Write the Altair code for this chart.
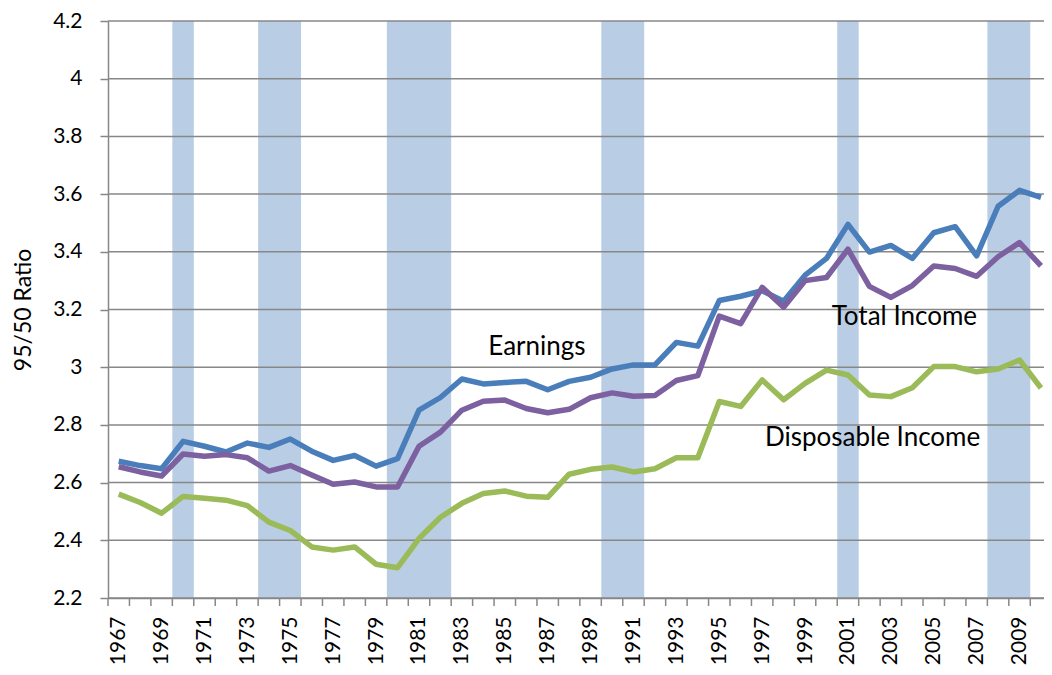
import altair as alt
import pandas as pd

# ---------------- data ----------------
years = list(range(1967, 2011))

earnings = [2.674, 2.659, 2.648, 2.743, 2.726, 2.706, 2.737, 2.722, 2.751, 2.709,
            2.677, 2.694, 2.657, 2.683, 2.851, 2.895, 2.959, 2.942, 2.947, 2.951,
            2.922, 2.951, 2.965, 2.994, 3.008, 3.008, 3.086, 3.073, 3.231, 3.246,
            3.265, 3.229, 3.319, 3.377, 3.495, 3.399, 3.422, 3.377, 3.466, 3.487,
            3.386, 3.558, 3.613, 3.589]

total_income = [2.655, 2.637, 2.623, 2.699, 2.691, 2.697, 2.686, 2.640, 2.659, 2.626,
                2.594, 2.602, 2.585, 2.585, 2.726, 2.775, 2.851, 2.882, 2.886, 2.857,
                2.842, 2.854, 2.894, 2.911, 2.899, 2.902, 2.954, 2.971, 3.177, 3.151,
                3.277, 3.208, 3.300, 3.311, 3.409, 3.280, 3.242, 3.283, 3.351, 3.342,
                3.315, 3.383, 3.432, 3.351]

disposable_income = [2.560, 2.531, 2.494, 2.552, 2.546, 2.539, 2.520, 2.463, 2.434, 2.377,
                     2.366, 2.377, 2.317, 2.305, 2.406, 2.480, 2.528, 2.562, 2.571, 2.553,
                     2.549, 2.629, 2.646, 2.654, 2.637, 2.648, 2.686, 2.686, 2.881, 2.864,
                     2.956, 2.887, 2.944, 2.990, 2.973, 2.904, 2.898, 2.929, 3.002, 3.002,
                     2.984, 2.994, 3.025, 2.928]

series_names = ["Earnings", "Total Income", "Disposable Income"]
series_colors = ["#4A7EBB", "#7D60A0", "#9BBB59"]

recession_start = [1970, 1974, 1980, 1990, 2001, 2008]
recession_end = [1970, 1975, 1982, 1991, 2001, 2009]

y_tick_values = [2.2, 2.4, 2.6, 2.8, 3.0, 3.2, 3.4, 3.6, 3.8, 4.0, 4.2]
x_label_years = list(range(1967, 2010, 2))

label_text = ["Earnings", "Total Income", "Disposable Income"]
label_year = [1984.23, 2000.24, 1997.13]
label_value = [3.042, 3.147, 2.727]

# ---------------- tables ----------------
lines_df = pd.DataFrame({
    "year": years * 3,
    "value": earnings + total_income + disposable_income,
    "series": [series_names[0]] * len(years) + [series_names[1]] * len(years)
              + [series_names[2]] * len(years),
})
bands_df = pd.DataFrame({"start": recession_start, "end": recession_end})
grid_df = pd.DataFrame({"v": y_tick_values})
ticks_df = pd.DataFrame({"year": years})
labels_df = pd.DataFrame({"text": label_text, "year": label_year, "value": label_value})

GRAY = "#878787"
W, H = 936, 577
x_scale = alt.Scale(domain=[1966.5, 2010.14], nice=False, zero=False)
y_scale = alt.Scale(domain=[2.2, 4.2], nice=False, zero=False)

x_axis = alt.Axis(values=x_label_years, format="d", labelAngle=270,
                  ticks=False, tickSize=0, grid=False, title=None,
                  domainColor=GRAY, domainWidth=1.5,
                  labelFontSize=21, labelColor="black", labelPadding=18,
                  labelFlush=False, labelOverlap=False)
y_axis = alt.Axis(values=y_tick_values, format="~f", grid=False,
                  ticks=True, tickSize=8, tickColor=GRAY, tickWidth=1.5,
                  domainColor=GRAY, domainWidth=1.5,
                  labelFontSize=21, labelColor="black", labelPadding=18,
                  title="95/50 Ratio", titleFontSize=23,
                  titleFontWeight="normal", titleColor="black",
                  titlePadding=17)

bands = alt.Chart(bands_df).transform_calculate(
    x0="datum.start - 0.5", x1="datum.end + 0.5"
).mark_rect(color="#B9CDE5").encode(
    x=alt.X("x0:Q", scale=x_scale, axis=x_axis),
    x2="x1:Q",
    y=alt.value(0),
    y2=alt.value(H),
)

grid = alt.Chart(grid_df).mark_rule(color=GRAY, strokeWidth=1.5).encode(
    y=alt.Y("v:Q", scale=y_scale, axis=y_axis),
    x=alt.value(0),
    x2=alt.value(W),
)

xticks = alt.Chart(ticks_df).transform_calculate(
    b="datum.year - 0.5"
).mark_rule(color=GRAY, strokeWidth=1.5).encode(
    x=alt.X("b:Q", scale=x_scale, axis=x_axis),
    y=alt.value(H),
    y2=alt.value(H + 8),
)

lines = alt.Chart(lines_df).mark_line(
    strokeWidth=5.5, strokeJoin="round", strokeCap="butt"
).encode(
    x=alt.X("year:Q", scale=x_scale, axis=x_axis),
    y=alt.Y("value:Q", scale=y_scale, axis=y_axis),
    color=alt.Color("series:N", scale=alt.Scale(domain=series_names, range=series_colors),
                    legend=None),
    detail="series:N",
)

texts = alt.Chart(labels_df).mark_text(
    align="left", baseline="alphabetic", fontSize=26, color="black"
).encode(
    x=alt.X("year:Q", scale=x_scale, axis=x_axis),
    y=alt.Y("value:Q", scale=y_scale, axis=y_axis),
    text="text:N",
)

chart = alt.layer(bands, grid, xticks, lines, texts).properties(
    width=W, height=H,
    autosize=alt.AutoSizeParams(type="none"),
    padding={"left": 100, "top": 13, "right": 0, "bottom": 76},
).configure(font="Lato").configure_view(stroke=None)

chart.save("out.html", embed_options={"renderer": "svg", "actions": False})
